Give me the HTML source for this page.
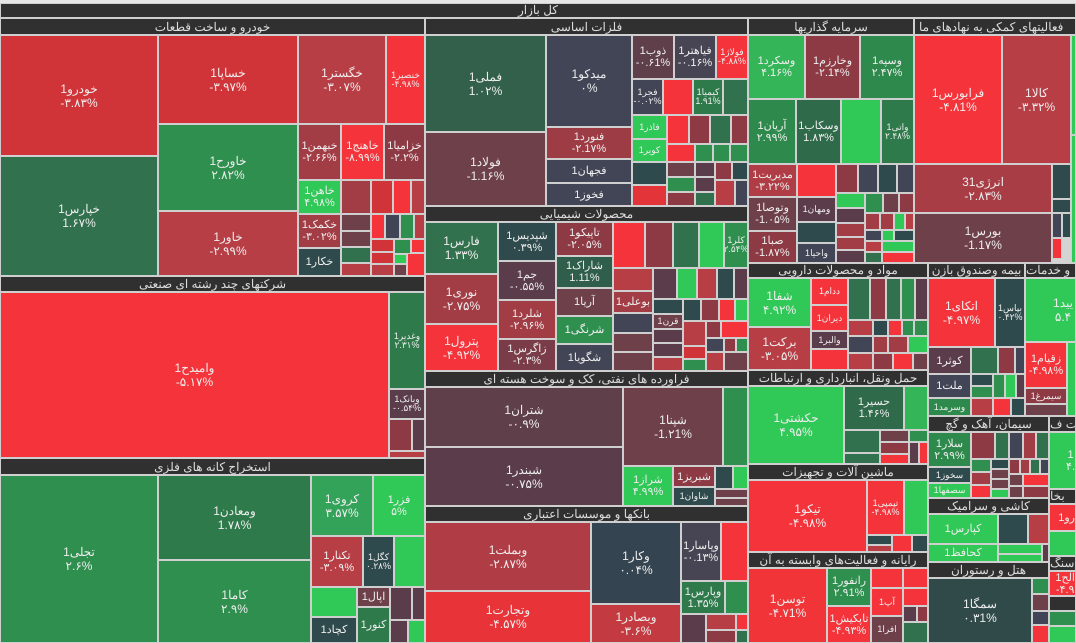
<!DOCTYPE html>
<html><head><meta charset="utf-8">
<style>
body{margin:0;width:1076px;height:643px;overflow:hidden;background:#d4d4d4;position:relative;font-family:"Liberation Sans","Noto Sans CJK SC",sans-serif}
div{position:absolute;box-sizing:border-box}
.t{border:1px solid #cfcfcf;color:#eee;display:flex;align-items:center;justify-content:center;text-align:center;font-size:11px;line-height:12px;overflow:hidden}
.b{font-size:12px;line-height:14px}
.s{font-size:9px;line-height:9px}
.h{background:#303030;color:#ddd;font-size:12px;line-height:16px;text-align:center;border:1px solid #cfcfcf;overflow:hidden;white-space:nowrap}
.R{background:#f5333a}.r{background:#d13438}.m{background:#b83e45}.n{background:#a33d45}.d{background:#8e3a44}.e{background:#6e404a}.p{background:#5a3c4a}
.k{background:#414555}.q{background:#2f4a4c}.g{background:#32714e}.G{background:#2e8f4f}.L{background:#30c856}.o{background:#2e7a4a}
</style></head><body>
<div style="left:0;top:0;width:1076px;height:3px;background:#e6e6e6"></div>
<div class="h" style="left:0;top:3px;width:1076px;height:15px;line-height:13px">کل بازار</div>

<!-- col1 -->
<div class="h" style="left:0;top:18px;width:425px;height:17px">خودرو و ساخت قطعات</div>
<div class="t b r" style="left:0;top:35px;width:158px;height:121px">خودرو1<br>-۳.۸۳%</div>
<div class="t b g" style="left:0;top:156px;width:158px;height:120px">خپارس1<br>1.۶۷%</div>
<div class="t b r" style="left:158px;top:35px;width:140px;height:89px">خساپا1<br>-۳.۹۷%</div>
<div class="t b G" style="left:158px;top:124px;width:140px;height:87px">خاورح1<br>۲.۸۲%</div>
<div class="t b m" style="left:158px;top:211px;width:140px;height:65px">خاور1<br>-۲.۹۹%</div>
<div class="t b m" style="left:298px;top:35px;width:88px;height:89px">خگستر1<br>-۳.۰۷%</div>
<div class="t s R" style="left:386px;top:35px;width:39px;height:89px">خنصیر1<br>-۴.۹۸%</div>
<div class="t n" style="left:298px;top:124px;width:43px;height:56px">خبهمن1<br>-۲.۶۶%</div>
<div class="t R" style="left:341px;top:124px;width:43px;height:56px">خاهنج1<br>-۸.۹۹%</div>
<div class="t d" style="left:384px;top:124px;width:41px;height:56px">خزامیا1<br>-۲.۲%</div>
<div class="t L" style="left:298px;top:180px;width:43px;height:34px">خاهن1<br>۴.۹۸%</div>
<div class="t n" style="left:298px;top:214px;width:43px;height:34px">خکمک1<br>-۳.۰۲%</div>
<div class="t q" style="left:298px;top:248px;width:43px;height:28px">خکار1</div>
<div class="t n" style="left:341px;top:180px;width:30px;height:34px"></div>
<div class="t r" style="left:371px;top:180px;width:22px;height:34px"></div>
<div class="t R" style="left:393px;top:180px;width:18px;height:34px"></div>
<div class="t m" style="left:411px;top:180px;width:14px;height:34px"></div>
<div class="t e" style="left:341px;top:214px;width:30px;height:17px"></div>
<div class="t e" style="left:341px;top:231px;width:30px;height:16px"></div>
<div class="t g" style="left:341px;top:247px;width:30px;height:16px"></div>
<div class="t m" style="left:341px;top:263px;width:30px;height:13px"></div>
<div class="t R" style="left:371px;top:214px;width:14px;height:25px"></div>
<div class="t k" style="left:385px;top:214px;width:15px;height:25px"></div>
<div class="t G" style="left:400px;top:214px;width:14px;height:25px"></div>
<div class="t m" style="left:414px;top:214px;width:11px;height:25px"></div>
<div class="t r" style="left:371px;top:239px;width:23px;height:13px"></div>
<div class="t G" style="left:394px;top:239px;width:17px;height:15px"></div>
<div class="t R" style="left:411px;top:239px;width:14px;height:14px"></div>
<div class="t r" style="left:371px;top:252px;width:23px;height:12px"></div>
<div class="t L" style="left:394px;top:254px;width:13px;height:10px"></div>
<div class="t R" style="left:407px;top:253px;width:18px;height:23px"></div>
<div class="t m" style="left:371px;top:264px;width:23px;height:12px"></div>
<div class="t e" style="left:394px;top:264px;width:13px;height:12px"></div>

<div class="h" style="left:0;top:276px;width:425px;height:16px;line-height:14px">شرکتهای چند رشته ای صنعتی</div>
<div class="t b R" style="left:0;top:292px;width:389px;height:166px">وامیدح1<br>-۵.۱۷%</div>
<div class="t s o" style="left:389px;top:292px;width:36px;height:97px">وغدیر1<br>۲.۳۱%</div>
<div class="t s p" style="left:389px;top:389px;width:36px;height:30px">وبانک1<br>-۰.۵۴%</div>
<div class="t d" style="left:389px;top:419px;width:23px;height:32px"></div>
<div class="t p" style="left:412px;top:419px;width:13px;height:32px"></div>
<div class="t m" style="left:389px;top:451px;width:36px;height:7px"></div>

<div class="h" style="left:0;top:458px;width:425px;height:17px">استخراج کانه های فلزی</div>
<div class="t b G" style="left:0;top:475px;width:158px;height:168px">تجلی1<br>۲.۶%</div>
<div class="t b o" style="left:158px;top:475px;width:153px;height:85px">ومعادن1<br>1.۷۸%</div>
<div class="t b G" style="left:158px;top:560px;width:153px;height:83px">کاما1<br>۲.۹%</div>
<div class="t b" style="left:311px;top:475px;width:62px;height:61px;background:#33a35a">کروی1<br>۳.۵۷%</div>
<div class="t L" style="left:373px;top:475px;width:52px;height:61px">فزر1<br>۵%</div>
<div class="t m" style="left:311px;top:536px;width:52px;height:51px">تکنار1<br>-۳.۰۹%</div>
<div class="t s q" style="left:363px;top:536px;width:31px;height:51px">کگل1<br>۰.۲۸%</div>
<div class="t L" style="left:394px;top:536px;width:31px;height:51px"></div>
<div class="t L" style="left:311px;top:587px;width:46px;height:30px"></div>
<div class="t e" style="left:357px;top:587px;width:33px;height:20px">اپال1</div>
<div class="t q" style="left:311px;top:617px;width:46px;height:26px">کچاد1</div>
<div class="t o" style="left:357px;top:607px;width:33px;height:36px">کنور1</div>
<div class="t p" style="left:390px;top:587px;width:22px;height:33px"></div>
<div class="t p" style="left:412px;top:587px;width:13px;height:33px"></div>
<div class="t p" style="left:390px;top:620px;width:18px;height:23px"></div>
<div class="t L" style="left:408px;top:620px;width:17px;height:23px"></div>

<!-- col2 -->
<div class="h" style="left:425px;top:18px;width:323px;height:17px">فلزات اساسی</div>
<div class="t b" style="left:425px;top:35px;width:121px;height:97px;background:#33604a">فملی1<br>1.۰۲%</div>
<div class="t b e" style="left:425px;top:132px;width:121px;height:74px">فولاد1<br>-1.1۶%</div>
<div class="t b k" style="left:546px;top:35px;width:86px;height:92px">میدکو1<br>۰%</div>
<div class="t" style="left:546px;top:127px;width:86px;height:32px;background:#9e3c45">فنورد1<br>-۲.1۷%</div>
<div class="t k" style="left:546px;top:159px;width:86px;height:24px">فجهان1</div>
<div class="t k" style="left:546px;top:183px;width:86px;height:23px">فخوز1</div>
<div class="t" style="left:632px;top:35px;width:42px;height:44px;background:#5e3f4a">ذوب1<br>-۰.۶1%</div>
<div class="t" style="left:674px;top:35px;width:42px;height:44px;background:#474553">فیاهتر1<br>-۰.1۶%</div>
<div class="t s R" style="left:716px;top:35px;width:32px;height:44px">فولاژ1<br>-۴.۸۸%</div>
<div class="t s k" style="left:632px;top:79px;width:31px;height:36px">فجر1<br>-۰.۰۲%</div>
<div class="t R" style="left:663px;top:79px;width:30px;height:36px"></div>
<div class="t s o" style="left:693px;top:79px;width:30px;height:36px">کیمیا1<br>1.۹1%</div>
<div class="t g" style="left:723px;top:79px;width:25px;height:36px"></div>
<div class="t s L" style="left:632px;top:115px;width:35px;height:24px">فاذر1</div>
<div class="t s L" style="left:632px;top:139px;width:35px;height:23px">کویر1</div>
<div class="t R" style="left:667px;top:115px;width:22px;height:29px"></div>
<div class="t d" style="left:689px;top:115px;width:21px;height:29px"></div>
<div class="t g" style="left:710px;top:115px;width:21px;height:29px"></div>
<div class="t d" style="left:731px;top:115px;width:17px;height:29px"></div>
<div class="t R" style="left:667px;top:144px;width:28px;height:18px"></div>
<div class="t G" style="left:695px;top:144px;width:18px;height:18px"></div>
<div class="t G" style="left:713px;top:144px;width:17px;height:18px"></div>
<div class="t G" style="left:730px;top:144px;width:18px;height:18px"></div>
<div class="t q" style="left:632px;top:162px;width:35px;height:23px"></div>
<div class="t R" style="left:632px;top:185px;width:35px;height:21px;background:#e33539"></div>
<div class="t e" style="left:667px;top:162px;width:28px;height:15px"></div>
<div class="t G" style="left:667px;top:177px;width:28px;height:15px"></div>
<div class="t d" style="left:667px;top:192px;width:28px;height:14px"></div>
<div class="t p" style="left:695px;top:162px;width:20px;height:15px"></div>
<div class="t p" style="left:695px;top:177px;width:20px;height:15px"></div>
<div class="t g" style="left:695px;top:192px;width:20px;height:14px"></div>
<div class="t d" style="left:715px;top:162px;width:17px;height:18px"></div>
<div class="t q" style="left:732px;top:162px;width:16px;height:18px"></div>
<div class="t m" style="left:715px;top:180px;width:20px;height:26px"></div>
<div class="t k" style="left:735px;top:180px;width:13px;height:26px"></div>

<div class="h" style="left:425px;top:206px;width:323px;height:16px;line-height:14px">محصولات شیمیایی</div>
<div class="t b g" style="left:425px;top:222px;width:73px;height:52px">فارس1<br>1.۳۳%</div>
<div class="t b n" style="left:425px;top:274px;width:73px;height:50px">نوری1<br>-۲.۷۵%</div>
<div class="t b R" style="left:425px;top:324px;width:73px;height:47px">پترول1<br>-۴.۹۲%</div>
<div class="t q" style="left:498px;top:222px;width:58px;height:39px">شپدیس1<br>۰.۳۹%</div>
<div class="t p" style="left:498px;top:261px;width:58px;height:39px">جم1<br>-۰.۵۵%</div>
<div class="t n" style="left:498px;top:300px;width:58px;height:39px">شلرد1<br>-۲.۹۶%</div>
<div class="t" style="left:498px;top:339px;width:58px;height:32px;background:#7a3c48">زاگرس1<br>-۲.۳%</div>
<div class="t d" style="left:556px;top:222px;width:57px;height:34px">تاپیکو1<br>-۲.۰۵%</div>
<div class="t" style="left:556px;top:256px;width:57px;height:32px;background:#2f5e4a">شاراک1<br>1.11%</div>
<div class="t e" style="left:556px;top:288px;width:57px;height:28px">آریا1</div>
<div class="t G" style="left:556px;top:316px;width:57px;height:28px">شرنگی1</div>
<div class="t k" style="left:556px;top:344px;width:57px;height:27px">شگویا1</div>
<div class="t R" style="left:613px;top:222px;width:32px;height:46px"></div>
<div class="t d" style="left:645px;top:222px;width:28px;height:46px"></div>
<div class="t g" style="left:673px;top:222px;width:26px;height:46px"></div>
<div class="t L" style="left:699px;top:222px;width:25px;height:46px"></div>
<div class="t s G" style="left:724px;top:222px;width:24px;height:46px">کلر1<br>۲.۵۴%</div>
<div class="t m" style="left:613px;top:268px;width:40px;height:23px"></div>
<div class="t n" style="left:613px;top:291px;width:40px;height:22px">بوعلی1</div>
<div class="t k" style="left:613px;top:313px;width:40px;height:20px"></div>
<div class="t e" style="left:613px;top:333px;width:40px;height:19px"></div>
<div class="t e" style="left:613px;top:352px;width:40px;height:19px"></div>
<div class="t p" style="left:653px;top:268px;width:24px;height:31px"></div>
<div class="t L" style="left:677px;top:268px;width:20px;height:31px"></div>
<div class="t m" style="left:697px;top:268px;width:20px;height:31px"></div>
<div class="t q" style="left:717px;top:268px;width:17px;height:31px"></div>
<div class="t p" style="left:734px;top:268px;width:14px;height:31px"></div>
<div class="t q" style="left:653px;top:299px;width:30px;height:15px"></div>
<div class="t s e" style="left:653px;top:314px;width:30px;height:15px">قرن1</div>
<div class="t p" style="left:653px;top:329px;width:30px;height:14px"></div>
<div class="t p" style="left:653px;top:343px;width:30px;height:14px"></div>
<div class="t m" style="left:653px;top:357px;width:30px;height:14px"></div>
<div class="t q" style="left:683px;top:299px;width:18px;height:22px"></div>
<div class="t d" style="left:701px;top:299px;width:18px;height:22px"></div>
<div class="t R" style="left:719px;top:299px;width:16px;height:22px"></div>
<div class="t L" style="left:735px;top:299px;width:13px;height:22px"></div>
<div class="t m" style="left:683px;top:321px;width:23px;height:25px"></div>
<div class="t d" style="left:706px;top:321px;width:15px;height:17px"></div>
<div class="t R" style="left:721px;top:321px;width:27px;height:17px"></div>
<div class="t r" style="left:683px;top:346px;width:23px;height:13px"></div>
<div class="t G" style="left:683px;top:359px;width:23px;height:12px"></div>
<div class="t k" style="left:706px;top:338px;width:18px;height:14px"></div>
<div class="t d" style="left:724px;top:338px;width:12px;height:14px"></div>
<div class="t G" style="left:736px;top:338px;width:12px;height:14px"></div>
<div class="t m" style="left:706px;top:352px;width:18px;height:19px"></div>
<div class="t e" style="left:724px;top:352px;width:24px;height:19px"></div>

<div class="h" style="left:425px;top:371px;width:323px;height:16px;line-height:14px">فراورده های نفتی، کک و سوخت هسته ای</div>
<div class="t b" style="left:425px;top:387px;width:198px;height:60px;background:#5e3f4a">شتران1<br>-۰.۹%</div>
<div class="t b p" style="left:425px;top:447px;width:198px;height:59px">شبندر1<br>-۰.۷۵%</div>
<div class="t b e" style="left:623px;top:387px;width:100px;height:79px">شپنا1<br>-1.۲1%</div>
<div class="t G" style="left:723px;top:387px;width:25px;height:79px"></div>
<div class="t L" style="left:623px;top:466px;width:50px;height:40px">شراز1<br>۴.۹۹%</div>
<div class="t d" style="left:673px;top:466px;width:42px;height:21px">شبریز1</div>
<div class="t s q" style="left:673px;top:487px;width:42px;height:19px">شاوان1</div>
<div class="t q" style="left:715px;top:466px;width:18px;height:23px"></div>
<div class="t L" style="left:733px;top:466px;width:15px;height:23px"></div>
<div class="t e" style="left:715px;top:489px;width:33px;height:9px"></div>
<div class="t e" style="left:715px;top:498px;width:33px;height:8px"></div>

<div class="h" style="left:425px;top:506px;width:323px;height:16px;line-height:14px">بانکها و موسسات اعتباری</div>
<div class="t b" style="left:425px;top:522px;width:166px;height:69px;background:#b03d45">وبملت1<br>-۲.۸۷%</div>
<div class="t b" style="left:425px;top:591px;width:166px;height:52px;background:#e83438">وتجارت1<br>-۴.۵۷%</div>
<div class="t b" style="left:591px;top:522px;width:90px;height:82px;background:#344450">وکار1<br>۰.۰۴%</div>
<div class="t b" style="left:591px;top:604px;width:90px;height:39px;background:#c33b40">وبصادر1<br>-۳.۶%</div>
<div class="t" style="left:681px;top:522px;width:40px;height:59px;background:#474553">وپاسار1<br>-۰.1۳%</div>
<div class="t R" style="left:721px;top:522px;width:27px;height:59px"></div>
<div class="t o" style="left:681px;top:581px;width:44px;height:33px">وپارس1<br>1.۳۵%</div>
<div class="t G" style="left:725px;top:581px;width:23px;height:33px"></div>
<div class="t p" style="left:681px;top:614px;width:25px;height:29px"></div>
<div class="t m" style="left:706px;top:614px;width:30px;height:16px"></div>
<div class="t R" style="left:736px;top:614px;width:12px;height:16px"></div>
<div class="t d" style="left:706px;top:630px;width:30px;height:13px"></div>
<div class="t g" style="left:736px;top:630px;width:12px;height:13px"></div>

<!-- col3 -->
<div class="h" style="left:748px;top:18px;width:166px;height:17px">سرمایه گذاریها</div>
<div class="t" style="left:748px;top:35px;width:57px;height:64px;background:#33b558">وسکرد1<br>۴.1۶%</div>
<div class="t d" style="left:805px;top:35px;width:55px;height:64px">وخارزم1<br>-۲.1۴%</div>
<div class="t" style="left:860px;top:35px;width:54px;height:64px;background:#2e8a4c">وسپه1<br>۲.۴۷%</div>
<div class="t" style="left:748px;top:99px;width:48px;height:65px;background:#2e8a4c">آریان1<br>۲.۹۹%</div>
<div class="t" style="left:796px;top:99px;width:45px;height:65px;background:#2f6a4a">وسکاب1<br>1.۸۳%</div>
<div class="t L" style="left:841px;top:99px;width:40px;height:65px"></div>
<div class="t s o" style="left:881px;top:99px;width:33px;height:65px">واتی1<br>۲.۴۸%</div>
<div class="t" style="left:748px;top:164px;width:49px;height:33px;background:#b03d45">مدیریت1<br>-۳.۲۲%</div>
<div class="t e" style="left:748px;top:197px;width:49px;height:34px">وتوصا1<br>-1.۰۵%</div>
<div class="t d" style="left:748px;top:231px;width:49px;height:32px">صبا1<br>-1.۸۷%</div>
<div class="t R" style="left:797px;top:164px;width:39px;height:33px"></div>
<div class="t s p" style="left:797px;top:197px;width:39px;height:25px">ومهان1</div>
<div class="t q" style="left:797px;top:222px;width:39px;height:21px"></div>
<div class="t s k" style="left:797px;top:243px;width:39px;height:20px">واحیا1</div>
<div class="t d" style="left:836px;top:164px;width:22px;height:29px"></div>
<div class="t k" style="left:858px;top:164px;width:20px;height:29px"></div>
<div class="t q" style="left:878px;top:164px;width:19px;height:29px"></div>
<div class="t k" style="left:897px;top:164px;width:17px;height:29px"></div>
<div class="t L" style="left:836px;top:193px;width:29px;height:15px"></div>
<div class="t p" style="left:836px;top:208px;width:29px;height:15px"></div>
<div class="t n" style="left:836px;top:223px;width:29px;height:14px"></div>
<div class="t n" style="left:836px;top:237px;width:29px;height:13px"></div>
<div class="t p" style="left:836px;top:250px;width:29px;height:13px"></div>
<div class="t G" style="left:865px;top:193px;width:18px;height:20px"></div>
<div class="t e" style="left:883px;top:193px;width:16px;height:20px"></div>
<div class="t d" style="left:899px;top:193px;width:15px;height:20px"></div>
<div class="t n" style="left:865px;top:213px;width:15px;height:17px"></div>
<div class="t n" style="left:880px;top:213px;width:14px;height:17px"></div>
<div class="t L" style="left:894px;top:213px;width:11px;height:17px"></div>
<div class="t m" style="left:905px;top:213px;width:9px;height:17px"></div>
<div class="t k" style="left:865px;top:230px;width:17px;height:11px"></div>
<div class="t L" style="left:882px;top:230px;width:12px;height:11px"></div>
<div class="t q" style="left:894px;top:230px;width:20px;height:11px"></div>
<div class="t m" style="left:865px;top:241px;width:17px;height:11px"></div>
<div class="t L" style="left:882px;top:241px;width:32px;height:11px"></div>
<div class="t g" style="left:865px;top:252px;width:17px;height:11px"></div>
<div class="t R" style="left:882px;top:252px;width:32px;height:11px"></div>

<div class="h" style="left:914px;top:18px;width:162px;height:17px;text-align:left;padding-left:4px">فعالیتهای کمکی به نهادهای ما</div>
<div class="t b R" style="left:914px;top:35px;width:88px;height:129px">فرابورس1<br>-۴.۸1%</div>
<div class="t b m" style="left:1002px;top:35px;width:69px;height:129px">کالا1<br>-۳.۳۲%</div>
<div class="t b" style="left:914px;top:164px;width:138px;height:49px;background:#a83d45">انرژی31<br>-۲.۸۳%</div>
<div class="t b e" style="left:914px;top:213px;width:138px;height:50px">بورس1<br>-1.1۷%</div>
<div class="t q" style="left:1052px;top:164px;width:19px;height:35px"></div>
<div class="t q" style="left:1052px;top:199px;width:19px;height:14px"></div>
<div class="t k" style="left:1052px;top:213px;width:10px;height:25px"></div>
<div class="t q" style="left:1062px;top:213px;width:9px;height:25px"></div>
<div class="t R" style="left:1052px;top:238px;width:10px;height:21px"></div>
<div class="t L" style="left:1071px;top:35px;width:5px;height:100px"></div>
<div class="t L" style="left:1071px;top:135px;width:5px;height:128px"></div>

<div class="h" style="left:748px;top:263px;width:180px;height:15px;line-height:13px">مواد و محصولات دارویی</div>
<div class="t b L" style="left:748px;top:278px;width:63px;height:49px">شفا1<br>۴.۹۲%</div>
<div class="t b m" style="left:748px;top:327px;width:63px;height:43px">برکت1<br>-۳.۰۵%</div>
<div class="t s R" style="left:811px;top:278px;width:37px;height:27px">ددام1</div>
<div class="t s R" style="left:811px;top:305px;width:37px;height:26px">دیران1</div>
<div class="t s p" style="left:811px;top:331px;width:37px;height:18px">والبر1</div>
<div class="t R" style="left:811px;top:349px;width:37px;height:21px"></div>
<div class="t g" style="left:848px;top:278px;width:22px;height:42px"></div>
<div class="t d" style="left:870px;top:278px;width:16px;height:42px"></div>
<div class="t g" style="left:886px;top:278px;width:15px;height:42px"></div>
<div class="t G" style="left:901px;top:278px;width:14px;height:42px"></div>
<div class="t p" style="left:915px;top:278px;width:13px;height:42px"></div>
<div class="t m" style="left:848px;top:320px;width:25px;height:16px"></div>
<div class="t q" style="left:873px;top:320px;width:15px;height:16px"></div>
<div class="t R" style="left:888px;top:320px;width:14px;height:16px"></div>
<div class="t G" style="left:902px;top:320px;width:12px;height:16px"></div>
<div class="t G" style="left:914px;top:320px;width:14px;height:16px"></div>
<div class="t k" style="left:848px;top:336px;width:25px;height:17px"></div>
<div class="t n" style="left:873px;top:336px;width:15px;height:17px"></div>
<div class="t n" style="left:888px;top:336px;width:20px;height:17px"></div>
<div class="t L" style="left:908px;top:336px;width:20px;height:17px"></div>
<div class="t m" style="left:848px;top:353px;width:25px;height:17px"></div>
<div class="t d" style="left:873px;top:353px;width:20px;height:17px"></div>
<div class="t R" style="left:893px;top:353px;width:20px;height:17px"></div>
<div class="t e" style="left:913px;top:353px;width:15px;height:17px"></div>

<div class="h" style="left:928px;top:263px;width:97px;height:15px;line-height:13px">بیمه وصندوق بازن</div>
<div class="t b R" style="left:928px;top:278px;width:67px;height:69px">اتکای1<br>-۴.۹۷%</div>
<div class="t s q" style="left:995px;top:278px;width:30px;height:69px">بپاس1<br>۰.۴۲%</div>
<div class="t p" style="left:928px;top:347px;width:43px;height:27px">کوثر1</div>
<div class="t k" style="left:928px;top:374px;width:43px;height:24px">ملت1</div>
<div class="t s" style="left:928px;top:398px;width:43px;height:18px;background:#2e8a4c">وسرمد1</div>
<div class="t g" style="left:971px;top:347px;width:27px;height:27px"></div>
<div class="t d" style="left:998px;top:347px;width:17px;height:27px"></div>
<div class="t k" style="left:1015px;top:347px;width:10px;height:27px"></div>
<div class="t q" style="left:971px;top:374px;width:22px;height:12px"></div>
<div class="t G" style="left:971px;top:386px;width:22px;height:12px"></div>
<div class="t m" style="left:971px;top:398px;width:22px;height:18px"></div>
<div class="t G" style="left:993px;top:374px;width:12px;height:24px"></div>
<div class="t L" style="left:1005px;top:374px;width:11px;height:24px"></div>
<div class="t p" style="left:1016px;top:374px;width:9px;height:24px"></div>
<div class="t R" style="left:993px;top:398px;width:18px;height:18px"></div>
<div class="t q" style="left:1011px;top:398px;width:14px;height:18px"></div>

<div class="h" style="left:1025px;top:263px;width:51px;height:15px;line-height:13px;text-align:left">و خدمات</div>
<div class="t b L" style="left:1025px;top:278px;width:51px;height:64px;justify-content:flex-end;padding-right:2px">یید1<br>۵.۴</div>
<div class="t R" style="left:1025px;top:342px;width:42px;height:46px">زقیام1<br>-۴.۹۸%</div>
<div class="t s d" style="left:1025px;top:388px;width:42px;height:16px">سیمرغ1</div>
<div class="t e" style="left:1025px;top:404px;width:42px;height:12px"></div>
<div class="t L" style="left:1067px;top:342px;width:9px;height:74px"></div>

<div class="h" style="left:748px;top:370px;width:180px;height:16px;line-height:14px">حمل ونقل، انبارداری و ارتباطات</div>
<div class="t b L" style="left:748px;top:386px;width:96px;height:78px">حکشتی1<br>۴.۹۵%</div>
<div class="t" style="left:844px;top:386px;width:60px;height:44px;background:#2f6a4a">حسیر1<br>1.۴۶%</div>
<div class="t" style="left:904px;top:386px;width:24px;height:44px;background:#33b558"></div>
<div class="t g" style="left:844px;top:430px;width:36px;height:23px"></div>
<div class="t g" style="left:844px;top:453px;width:36px;height:11px"></div>
<div class="t e" style="left:880px;top:430px;width:29px;height:12px"></div>
<div class="t d" style="left:880px;top:442px;width:29px;height:12px"></div>
<div class="t R" style="left:880px;top:454px;width:29px;height:10px"></div>
<div class="t G" style="left:909px;top:430px;width:19px;height:12px"></div>
<div class="t p" style="left:909px;top:442px;width:10px;height:22px"></div>
<div class="t R" style="left:919px;top:442px;width:9px;height:22px"></div>

<div class="h" style="left:748px;top:464px;width:180px;height:16px;line-height:14px">ماشین آلات و تجهیزات</div>
<div class="t b R" style="left:748px;top:480px;width:119px;height:72px">تیکو1<br>-۴.۹۸%</div>
<div class="t s R" style="left:867px;top:480px;width:37px;height:55px">تپمپی1<br>-۴.۹۸%</div>
<div class="t L" style="left:904px;top:480px;width:24px;height:55px"></div>
<div class="t q" style="left:867px;top:535px;width:25px;height:10px"></div>
<div class="t m" style="left:867px;top:545px;width:25px;height:7px"></div>
<div class="t R" style="left:892px;top:535px;width:20px;height:17px"></div>
<div class="t q" style="left:912px;top:535px;width:16px;height:17px"></div>

<div class="h" style="left:748px;top:552px;width:180px;height:16px;line-height:14px">رایانه و فعالیت‌های وابسته به آن</div>
<div class="t b" style="left:748px;top:568px;width:79px;height:75px;background:#f03438">توسن1<br>-۴.۷1%</div>
<div class="t G" style="left:827px;top:568px;width:44px;height:38px">رانفور1<br>۲.۹1%</div>
<div class="t R" style="left:827px;top:606px;width:44px;height:37px">تاپکیش1<br>-۴.۹۳%</div>
<div class="t R" style="left:871px;top:568px;width:32px;height:20px"></div>
<div class="t R" style="left:903px;top:568px;width:25px;height:20px"></div>
<div class="t s R" style="left:871px;top:588px;width:32px;height:28px">آپ1</div>
<div class="t s e" style="left:871px;top:616px;width:32px;height:27px">افرا1</div>
<div class="t R" style="left:903px;top:588px;width:25px;height:18px"></div>
<div class="t p" style="left:903px;top:606px;width:14px;height:16px"></div>
<div class="t d" style="left:917px;top:606px;width:11px;height:16px"></div>
<div class="t g" style="left:903px;top:622px;width:25px;height:21px"></div>

<div class="h" style="left:928px;top:416px;width:121px;height:16px;line-height:14px">سیمان، آهک و گچ</div>
<div class="t" style="left:928px;top:432px;width:43px;height:35px;background:#2e8a4c">سلار1<br>۲.۹۹%</div>
<div class="t s q" style="left:928px;top:467px;width:43px;height:16px">سخوز1</div>
<div class="t s L" style="left:928px;top:483px;width:43px;height:15px">سصفها1</div>
<div class="t d" style="left:971px;top:432px;width:24px;height:27px"></div>
<div class="t g" style="left:995px;top:432px;width:14px;height:27px"></div>
<div class="t k" style="left:1009px;top:432px;width:14px;height:27px"></div>
<div class="t n" style="left:1023px;top:432px;width:13px;height:27px"></div>
<div class="t g" style="left:1036px;top:432px;width:13px;height:27px"></div>
<div class="t G" style="left:971px;top:459px;width:20px;height:13px"></div>
<div class="t n" style="left:971px;top:472px;width:20px;height:13px"></div>
<div class="t R" style="left:971px;top:485px;width:20px;height:13px"></div>
<div class="t q" style="left:991px;top:459px;width:18px;height:10px"></div>
<div class="t e" style="left:991px;top:469px;width:18px;height:10px"></div>
<div class="t e" style="left:991px;top:479px;width:18px;height:10px"></div>
<div class="t L" style="left:991px;top:489px;width:18px;height:9px"></div>
<div class="t d" style="left:1009px;top:459px;width:11px;height:15px"></div>
<div class="t n" style="left:1020px;top:459px;width:10px;height:15px"></div>
<div class="t g" style="left:1030px;top:459px;width:10px;height:15px"></div>
<div class="t k" style="left:1040px;top:459px;width:9px;height:15px"></div>
<div class="t e" style="left:1009px;top:474px;width:14px;height:12px"></div>
<div class="t R" style="left:1023px;top:474px;width:26px;height:12px"></div>
<div class="t e" style="left:1009px;top:486px;width:14px;height:12px"></div>
<div class="t d" style="left:1023px;top:486px;width:26px;height:12px"></div>

<div class="h" style="left:928px;top:498px;width:121px;height:16px;line-height:14px">کاشی و سرامیک</div>
<div class="t L" style="left:928px;top:514px;width:70px;height:30px">کپارس1</div>
<div class="t L" style="left:928px;top:544px;width:70px;height:18px">کحافظ1</div>
<div class="t q" style="left:998px;top:514px;width:30px;height:30px"></div>
<div class="t m" style="left:1028px;top:514px;width:21px;height:30px"></div>
<div class="t L" style="left:998px;top:544px;width:44px;height:10px"></div>
<div class="t L" style="left:998px;top:554px;width:44px;height:8px"></div>
<div class="t p" style="left:1042px;top:544px;width:7px;height:18px"></div>

<div class="h" style="left:928px;top:562px;width:121px;height:16px;line-height:14px">هتل و رستوران</div>
<div class="t b" style="left:928px;top:578px;width:104px;height:65px;background:#2f4a48">سمگا1<br>۰.۳1%</div>
<div class="t G" style="left:1032px;top:578px;width:17px;height:16px"></div>
<div class="t e" style="left:1032px;top:594px;width:17px;height:17px"></div>
<div class="t k" style="left:1032px;top:611px;width:17px;height:14px"></div>
<div class="t R" style="left:1032px;top:625px;width:17px;height:18px"></div>

<div class="h" style="left:1049px;top:416px;width:27px;height:16px;line-height:14px;text-align:left">ت ف</div>
<div class="t L" style="left:1049px;top:432px;width:27px;height:57px;justify-content:flex-end">1<br>۴.</div>
<div class="h" style="left:1049px;top:489px;width:27px;height:15px;line-height:13px;text-align:left">بخا</div>
<div class="t R" style="left:1049px;top:504px;width:27px;height:27px;justify-content:flex-end">رو1</div>
<div class="t L" style="left:1049px;top:531px;width:27px;height:25px"></div>
<div class="h" style="left:1049px;top:556px;width:27px;height:15px;line-height:13px;text-align:left">سنگ</div>
<div class="t R" style="left:1049px;top:571px;width:27px;height:25px;justify-content:flex-end">الح1<br>-۴.۹</div>
<div class="t" style="left:1049px;top:596px;width:27px;height:15px;background:#303030"></div>
<div class="t G" style="left:1049px;top:611px;width:27px;height:15px"></div>
<div class="t L" style="left:1049px;top:626px;width:27px;height:17px"></div>
</body></html>
